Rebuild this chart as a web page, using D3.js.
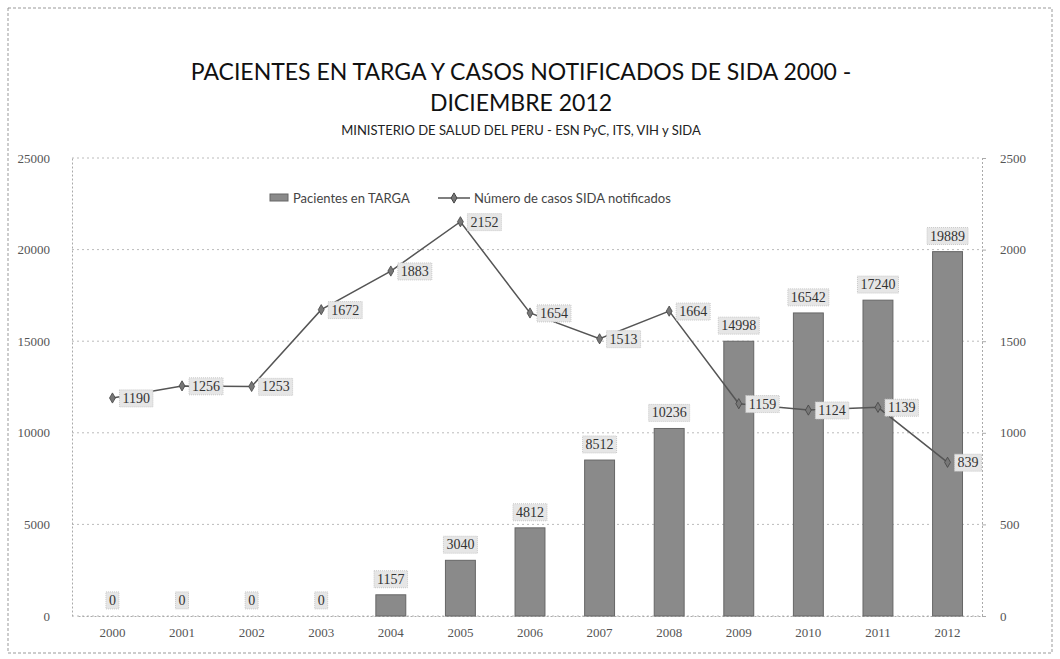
<!DOCTYPE html>
<html>
<head>
<meta charset="utf-8">
<script src="https://cdn.jsdelivr.net/npm/d3@7"></script>
<style>
  body { margin: 0; background: #fff; }
  svg { display: block; }
</style>
</head>
<body>
<svg id="chart" width="1060" height="659"></svg>
<script>
// ── data ──
const years = ["2000", "2001", "2002", "2003", "2004", "2005", "2006",
               "2007", "2008", "2009", "2010", "2011", "2012"];
const targa = [0, 0, 0, 0, 1157, 3040, 4812, 8512, 10236, 14998, 16542, 17240, 19889];
const sida = [1190, 1256, 1253, 1672, 1883, 2152, 1654, 1513, 1664, 1159, 1124, 1139, 839];
const leftTicks = [0, 5000, 10000, 15000, 20000, 25000];
const rightTicks = [0, 500, 1000, 1500, 2000, 2500];

const svg = d3.select("#chart");
const W = +svg.attr("width"), H = +svg.attr("height");
const m = { left: 78, right: 982, top: 158, bottom: 616 };

const x = d3.scaleBand().domain(years).range([m.left, m.right]).paddingInner(0.57).paddingOuter(0.28);
const yL = d3.scaleLinear().domain([0, 25000]).range([m.bottom, m.top]);
const yR = d3.scaleLinear().domain([0, 2500]).range([m.bottom, m.top]);

const sansFont = "Lato, 'Open Sans', sans-serif";
const serifFont = "'Liberation Serif', 'DejaVu Serif', serif";

// outer frame
svg.append("rect")
  .attr("x", 8).attr("y", 8).attr("width", W - 16).attr("height", H - 14)
  .attr("fill", "none").attr("stroke", "#999").attr("stroke-dasharray", "3,2");

// titles
svg.append("text").attr("x", 521).attr("y", 80).attr("text-anchor", "middle")
  .style("font-family", sansFont).style("font-size", "23px").attr("fill", "#111")
  .text("PACIENTES EN TARGA Y CASOS NOTIFICADOS DE SIDA 2000 -");
svg.append("text").attr("x", 521).attr("y", 111).attr("text-anchor", "middle")
  .style("font-family", sansFont).style("font-size", "23px").attr("fill", "#111")
  .text("DICIEMBRE 2012");
svg.append("text").attr("x", 521).attr("y", 135).attr("text-anchor", "middle")
  .style("font-family", sansFont).style("font-size", "13px").attr("fill", "#222")
  .text("MINISTERIO DE SALUD DEL PERU - ESN PyC, ITS, VIH y SIDA");

// gridlines
svg.append("g").selectAll("line").data(leftTicks).join("line")
  .attr("x1", m.left - 6).attr("x2", m.right)
  .attr("y1", d => yL(d)).attr("y2", d => yL(d))
  .attr("stroke", "#bbb").attr("stroke-dasharray", "2,3");

// axes
const axL = svg.append("g").attr("transform", `translate(${m.left - 6},0)`)
  .call(d3.axisLeft(yL).tickValues(leftTicks).tickFormat(d3.format("d")).tickSize(0).tickPadding(22));
const axR = svg.append("g").attr("transform", `translate(${m.right},0)`)
  .call(d3.axisRight(yR).tickValues(rightTicks).tickFormat(d3.format("d")).tickSize(4).tickPadding(14));
const axB = svg.append("g").attr("transform", `translate(0,${m.bottom})`)
  .call(d3.axisBottom(x).tickSize(0).tickPadding(12));
[axL, axR, axB].forEach(a => {
  a.selectAll("text").style("font-family", serifFont).style("font-size", "13px").attr("fill", "#555");
  a.selectAll("line").attr("stroke", "#aaa");
  a.select(".domain").attr("stroke", "#aaa").attr("stroke-dasharray", "2,2");
});

// bars
svg.append("g").selectAll("rect").data(targa).join("rect")
  .attr("x", (d, i) => x(years[i]))
  .attr("y", d => yL(d))
  .attr("width", x.bandwidth())
  .attr("height", d => yL(0) - yL(d))
  .attr("fill", "#8a8a8a").attr("stroke", "#666");

// labels with shaded boxes
function label(g, tx, ty, txt, anchor) {
  const t = g.append("text").attr("x", tx).attr("y", ty)
    .attr("text-anchor", anchor).attr("dy", "0.35em")
    .style("font-family", serifFont).style("font-size", "14px").attr("fill", "#333")
    .text(txt);
  const b = t.node().getBBox();
  g.insert("rect", "text")
    .attr("x", b.x - 3).attr("y", b.y - 1).attr("width", b.width + 6).attr("height", b.height + 2)
    .attr("fill", "#e6e6e6").attr("stroke", "#c8c8c8").attr("stroke-dasharray", "1,1");
  t.raise();
}

const barLabels = svg.append("g");
targa.forEach((v, i) => {
  const g = barLabels.append("g");
  label(g, x(years[i]) + x.bandwidth() / 2, yL(v) - 16, String(v), "middle");
});

// line
const cx = i => x(years[i]) + x.bandwidth() / 2;
svg.append("path")
  .datum(sida)
  .attr("fill", "none").attr("stroke", "#555").attr("stroke-width", 1.5)
  .attr("d", d3.line().x((d, i) => cx(i)).y(d => yR(d)));

svg.append("g").selectAll("path").data(sida).join("path")
  .attr("transform", (d, i) => `translate(${cx(i)},${yR(d)})`)
  .attr("d", d3.symbol(d3.symbolDiamond, 30))
  .attr("fill", "#777").attr("stroke", "#444").attr("stroke-width", 0.8);

const lineLabels = svg.append("g");
sida.forEach((v, i) => {
  const g = lineLabels.append("g");
  label(g, cx(i) + 10, yR(v), String(v), "start");
});

// legend
const lg = svg.append("g").attr("transform", "translate(270,198)");
lg.append("rect").attr("x", 0).attr("y", -4).attr("width", 18).attr("height", 7)
  .attr("fill", "#8a8a8a").attr("stroke", "#666");
lg.append("text").attr("x", 23).attr("dy", "0.35em")
  .style("font-family", sansFont).style("font-size", "13px").attr("fill", "#444")
  .text("Pacientes en TARGA");
lg.append("line").attr("x1", 168).attr("x2", 200).attr("stroke", "#555").attr("stroke-width", 1.5);
lg.append("path").attr("transform", "translate(184,0)")
  .attr("d", d3.symbol(d3.symbolDiamond, 30)).attr("fill", "#777").attr("stroke", "#444");
lg.append("text").attr("x", 204).attr("dy", "0.35em")
  .style("font-family", sansFont).style("font-size", "13px").attr("fill", "#444")
  .text("Número de casos SIDA notificados");
</script>
</body>
</html>
